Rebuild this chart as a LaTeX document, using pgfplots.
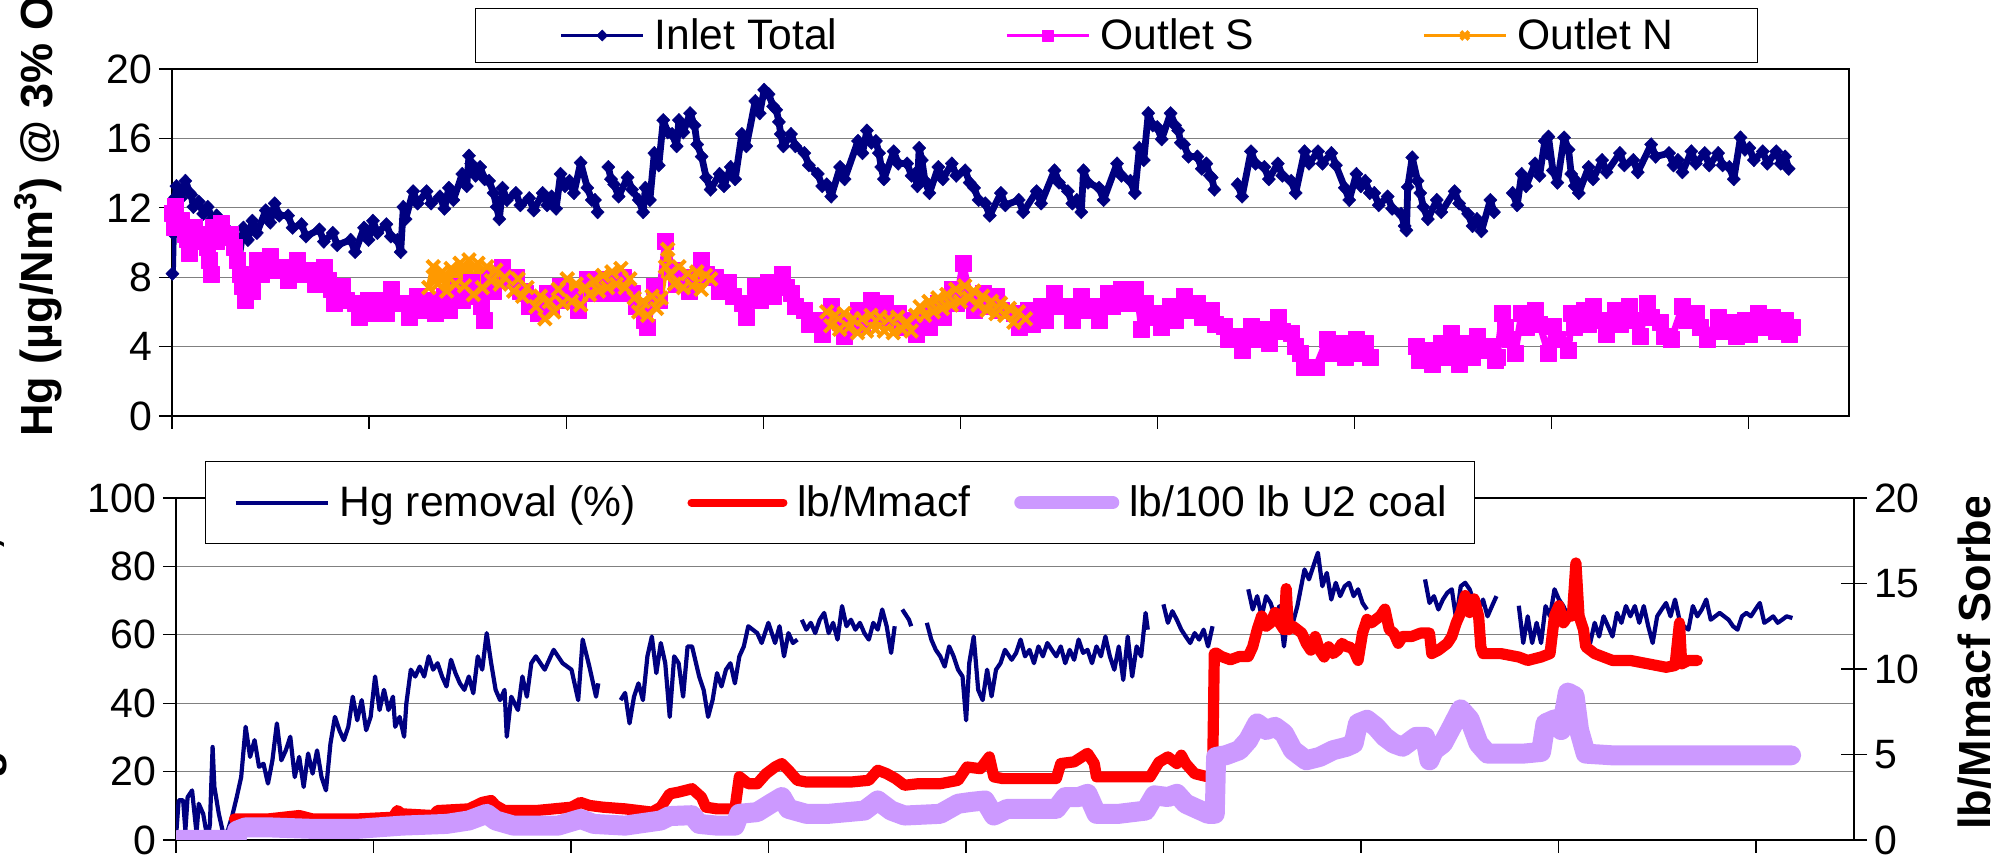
\documentclass[border=0pt]{standalone}
\usepackage{pgfplots}
\pgfplotsset{compat=1.18}
\usepackage{fontspec}
\setmainfont{Liberation Sans}
\definecolor{navyc}{HTML}{000080}
\definecolor{magc}{HTML}{FF00FF}
\definecolor{orc}{HTML}{FF9900}
\definecolor{redc}{HTML}{FF0000}
\definecolor{lavc}{HTML}{CC99FF}
\definecolor{gridc}{HTML}{808080}
\begin{document}
\begin{tikzpicture}
\useasboundingbox (0pt,0pt) rectangle (1001pt,427.5pt);
\pgfplotsset{
  every axis/.append style={
    scale only axis,
    /pgf/number format/assume math mode=true,
    ticklabel style={font=\fontsize{20.5}{24}\selectfont},
    axis line style={line width=0.6pt, black},
    tick style={line width=0.6pt, black},
    major grid style={line width=0.6pt, gridc},
    unbounded coords=jump,
  },
}
% ---------------- TOP PANEL ----------------
\begin{axis}[
  at={(86pt,219.5pt)}, anchor=south west,
  width=838.5pt, height=173.5pt,
  xmin=385, xmax=4140, ymin=0, ymax=20,
  xtick={385,826.3,1267.6,1708.9,2150.2,2591.5,3032.8,3474.1,3915.4},
  xticklabels={},
  ytick={0,4,8,12,16,20},
  ymajorgrids,
  tick align=outside, tick pos=left,
  major tick length=6.5pt,
  legend columns=3,
  legend style={at={(0.1807,1.1758)}, anchor=north west,
    draw=black, line width=0.6pt, fill=white,
    font=\fontsize{21.3}{25}\selectfont,
    inner xsep=42pt, inner ysep=5pt,
    nodes={inner sep=0pt},
    /tikz/every odd column/.append style={column sep=5pt},
    /tikz/every even column/.append style={column sep=84pt},
  },
  legend image code/.code={\draw[mark repeat=2,mark phase=2,#1,line width=1.6pt,mark size=2.8pt] plot coordinates {(0pt,0pt) (20.5pt,0pt) (41pt,0pt)};},
]
\addplot[navyc, line width=3.4pt, line join=round, mark=diamond*, mark size=3.4pt, mark options={solid, xscale=1.3, fill=navyc, line width=0.2pt}] coordinates {
(386,8.2)(388,10.5)(392,12.6)(395,13.25)(405,12.55)(415,13.55)(425,12.85)(428,12.75)(433,12.05)(445,12.35)(455,11.65)(465,12.05)(475,11.35)(485,11.55)(495,10.85)(505,10.85)(515,10.15)(525,9.75)(535,9.05)(545,10.85)(555,10.15)(565,11.25)(575,10.55)(595,11.85)(605,11.15)(615,12.25)(625,11.55)(645,11.55)(655,10.85)(675,11.05)(685,10.35)(715,10.75)(725,10.05)(745,10.55)(755,9.85)(785,10.15)(795,9.45)(815,10.85)(825,10.15)(835,11.25)(845,10.55)(865,11.05)(875,10.35)(890,10.15)(897,9.45)(903,12.05)(908,11.35)(925,12.95)(935,12.25)(955,12.95)(965,12.25)(985,12.65)(995,11.95)(1005,13.15)(1015,12.45)(1035,13.95)(1045,13.25)(1050,15.0)(1055,14.55)(1065,13.85)(1075,14.35)(1085,13.65)(1095,13.55)(1105,12.85)(1112,12.05)(1118,11.35)(1125,13.15)(1135,12.45)(1155,12.85)(1165,12.15)(1185,12.55)(1195,11.85)(1215,12.85)(1225,12.15)(1235,12.65)(1245,11.95)(1255,13.95)(1265,13.25)(1275,13.55)(1285,12.85)(1300,14.6)(1315,13.15)(1325,12.45)(1332,12.45)(1338,11.75)
(1350,nan)
(1362,14.35)(1368,13.65)(1375,13.35)(1385,12.65)(1405,13.75)(1415,13.05)(1430,12.45)(1440,11.75)(1445,13.15)(1455,12.45)(1465,15.15)(1475,14.45)(1485,17.05)(1495,16.35)(1505,16.25)(1515,15.55)(1520,17.05)(1530,16.35)(1545,17.45)(1555,16.75)(1561,15.65)(1571,14.95)(1581,13.75)(1591,13.05)(1611,13.95)(1621,13.25)(1636,14.35)(1646,13.65)(1661,16.25)(1671,15.55)(1691,18.15)(1701,17.45)(1711,18.8)(1721,18.55)(1731,17.85)(1738,17.65)(1744,16.95)(1748,16.25)(1754,15.55)(1771,16.25)(1781,15.55)(1801,15.15)(1811,14.45)(1831,13.95)(1841,13.25)(1851,13.35)(1861,12.65)(1881,14.35)(1891,13.65)(1921,15.85)(1931,15.15)(1941,16.45)(1951,15.75)(1961,15.85)(1968,15.15)(1973,14.35)(1979,13.65)(2001,15.25)(2011,14.55)(2031,14.55)(2041,13.85)(2048,13.95)(2054,13.25)(2058,15.45)(2064,14.75)(2071,13.55)(2081,12.85)(2101,14.35)(2111,13.65)(2131,14.55)(2141,13.85)(2161,14.15)(2171,13.45)(2181,13.15)(2191,12.45)(2206,12.25)(2216,11.55)(2241,12.85)(2251,12.15)(2281,12.45)(2291,11.75)(2321,12.95)(2331,12.25)(2361,14.15)(2371,13.45)(2391,12.95)(2401,12.25)(2411,12.45)(2421,11.75)(2426,14.15)(2436,13.45)(2461,13.15)(2471,12.45)(2501,14.55)(2511,13.85)(2531,13.55)(2541,12.85)(2551,15.45)(2561,14.75)(2571,17.45)(2581,16.75)(2591,16.65)(2601,15.95)(2621,17.45)(2631,16.75)(2638,16.45)(2644,15.75)(2651,15.65)(2661,14.95)(2681,14.95)(2691,14.25)(2701,14.55)(2709,13.85)(2713,13.75)(2719,13.05)
(2740,nan)
(2771,13.35)(2781,12.65)(2801,15.25)(2811,14.55)(2831,14.35)(2841,13.65)(2861,14.55)(2871,13.85)(2891,13.55)(2901,12.85)(2921,15.25)(2931,14.55)(2951,15.25)(2961,14.55)(2981,15.15)(2991,14.45)(3011,13.15)(3021,12.45)(3037,13.95)(3047,13.25)(3057,13.55)(3067,12.85)(3077,12.85)(3087,12.15)(3107,12.65)(3117,11.95)(3137,11.65)(3145,10.95)(3149,10.7)(3152,13.2)(3162,14.9)(3174,13.55)(3180,12.85)(3187,12.05)(3197,11.35)(3217,12.45)(3227,11.75)(3257,12.95)(3267,12.25)(3287,11.65)(3297,10.95)(3307,11.35)(3317,10.65)(3337,12.45)(3345,11.75)
(3367,nan)
(3387,12.85)(3397,12.15)(3407,13.95)(3417,13.25)(3437,14.55)(3447,13.85)(3459,15.85)(3464,15.15)(3467,16.1)(3477,14.15)(3487,13.45)(3502,16.05)(3512,15.35)(3518,13.95)(3526,13.25)(3529,13.55)(3535,12.85)(3557,14.35)(3567,13.65)(3587,14.75)(3597,14.05)(3627,15.15)(3637,14.45)(3657,14.75)(3667,14.05)(3697,15.65)(3707,14.95)(3737,15.15)(3747,14.45)(3757,14.75)(3767,14.05)(3787,15.25)(3797,14.55)(3817,15.15)(3827,14.45)(3847,15.15)(3857,14.45)(3872,14.35)(3882,13.65)(3897,16.05)(3907,15.35)(3917,15.45)(3927,14.75)(3947,15.25)(3957,14.55)(3977,15.25)(3987,14.55)(3997,14.95)(4005,14.25)
};
\addlegendentry{Inlet Total}
\addplot[magc, line width=3.4pt, line join=round, mark=square*, mark size=4pt, mark options={solid, fill=magc, line width=0.2pt}] coordinates {
(386,11.7)(391,10.9)(393,12.1)(398,11.3)(405,11.3)(415,10.5)(418,10.2)(423,9.4)(435,10.9)(445,10.1)(455,10.5)(463,9.7)(468,9.0)(473,8.2)(477,10.9)(485,10.1)(495,11.1)(505,10.3)(515,10.5)(525,9.7)(532,9.0)(538,8.2)(542,7.5)(548,6.7)(555,8.0)(565,7.2)(575,9.0)(585,8.2)(605,9.2)(615,8.4)(635,8.6)(645,7.8)(665,9.0)(675,8.2)(695,8.4)(705,7.6)(725,8.6)(735,7.8)(742,7.3)(748,6.5)(765,7.5)(775,6.7)(795,6.5)(805,5.7)(825,6.7)(835,5.9)(855,6.7)(865,5.9)(875,7.3)(885,6.5)(905,6.5)(915,5.7)(935,6.9)(945,6.1)(965,6.7)(975,5.9)(995,6.9)(1005,6.1)(1025,7.5)(1035,6.7)(1055,7.7)(1065,6.9)(1077,6.3)(1083,5.5)(1095,8.0)(1105,7.2)(1125,8.6)(1135,7.8)(1155,8.0)(1165,7.2)(1175,7.1)(1185,6.3)(1195,6.7)(1205,5.9)(1225,7.1)(1235,6.3)(1255,7.5)(1265,6.7)(1285,6.9)(1295,6.1)(1315,7.9)(1325,7.1)(1345,7.9)(1355,7.1)(1375,7.9)(1385,7.1)(1395,8.0)(1405,7.2)(1415,7.1)(1425,6.3)(1437,6.3)(1443,5.5)(1450,5.1)(1465,7.5)(1475,6.7)(1490,10.1)(1505,8.4)(1515,7.6)(1535,8.0)(1543,7.2)(1571,9.0)(1581,8.2)(1601,8.0)(1611,7.2)(1631,7.7)(1641,6.9)(1661,6.5)(1671,5.7)(1691,7.5)(1701,6.7)(1721,7.7)(1731,6.9)(1751,8.2)(1761,7.4)(1771,7.1)(1781,6.3)(1801,6.1)(1811,5.3)(1831,5.5)(1841,4.7)(1861,6.3)(1871,5.5)(1881,5.4)(1891,4.6)(1921,6.1)(1931,5.3)(1951,6.7)(1961,5.9)(1981,6.5)(1991,5.7)(2011,5.9)(2021,5.1)(2041,5.5)(2051,4.7)(2071,5.9)(2081,5.1)(2101,6.5)(2111,5.7)(2131,7.3)(2141,6.5)(2156,8.8)(2171,6.9)(2181,6.1)(2201,7.1)(2211,6.3)(2231,6.9)(2241,6.1)(2271,5.9)(2281,5.1)(2301,6.1)(2311,5.3)(2331,6.3)(2341,5.5)(2361,7.1)(2371,6.3)(2391,6.3)(2401,5.5)(2421,6.9)(2431,6.1)(2451,6.3)(2461,5.5)(2481,7.1)(2491,6.3)(2511,7.3)(2521,6.5)(2541,7.3)(2549,6.5)(2556,5.0)(2563,6.5)(2571,5.7)(2591,5.9)(2601,5.1)(2621,6.3)(2631,5.5)(2651,6.9)(2661,6.1)(2681,6.5)(2691,5.7)(2711,6.1)(2721,5.3)(2741,5.2)(2751,4.4)(2771,4.6)(2781,3.8)(2801,5.2)(2811,4.4)(2831,5.0)(2841,4.2)(2861,5.7)(2871,4.9)(2891,4.8)(2901,4.0)(2911,3.6)(2921,2.8)(2946,2.8)(2971,4.4)(2981,3.6)(3001,4.2)(3011,3.4)(3037,4.4)(3047,3.6)(3057,4.2)(3067,3.4)
(3100,nan)
(3170,4.0)(3177,3.2)(3197,3.8)(3207,3.0)(3227,4.2)(3237,3.4)(3249,4.8)(3255,4.0)(3267,3.0)(3287,4.2)(3297,3.4)(3307,4.6)(3317,3.8)(3337,4.0)(3347,3.2)(3352,3.4)(3364,5.9)(3370,5.1)(3382,4.4)(3392,3.6)(3407,5.9)(3417,5.1)(3437,6.1)(3447,5.3)(3467,3.6)(3477,5.2)(3487,4.4)(3512,3.8)(3519,5.9)(3525,5.1)(3547,6.1)(3557,5.3)(3567,6.3)(3577,5.5)(3587,5.5)(3597,4.7)(3617,6.1)(3627,5.3)(3647,6.3)(3657,5.5)(3672,4.6)(3687,6.5)(3697,5.7)(3717,5.4)(3727,4.6)(3742,4.4)(3767,6.3)(3777,5.5)(3797,5.9)(3807,5.1)(3822,4.4)(3847,5.7)(3857,4.9)(3877,5.4)(3887,4.6)(3907,5.5)(3917,4.7)(3937,5.9)(3947,5.1)(3967,5.7)(3977,4.9)(3997,5.5)(4007,4.7)(4012,5.1)
};
\addlegendentry{Outlet S}
\addplot[orc, line width=3pt, line join=round, mark=x, mark size=4.5pt, mark options={solid, line width=2pt}] coordinates {
(960,7.4)(970,8.6)(980,7.6)(990,8.3)(1000,7.2)(1010,8.5)(1020,7.6)(1030,8.8)(1040,7.5)(1050,9.0)(1060,7.0)(1070,8.8)(1080,7.4)(1090,8.6)(1100,7.8)(1110,8.4)(1120,7.6)(1130,8.0)(1150,7.2)(1160,7.9)(1170,6.9)(1180,7.4)(1200,6.3)(1210,6.9)(1220,5.6)(1230,6.6)(1240,6.0)(1250,7.3)(1260,6.5)(1270,7.9)(1280,6.6)(1290,7.6)(1300,6.4)(1310,7.4)(1320,7.0)(1330,7.8)(1340,7.2)(1350,8.1)(1360,7.4)(1370,8.3)(1380,7.6)(1390,8.5)(1400,7.4)(1410,7.9)(1420,6.8)(1430,6.0)(1440,6.6)(1450,5.8)(1460,6.9)(1470,6.2)(1480,6.8)(1490,8.6)(1495,9.6)(1500,8.2)(1510,7.6)(1520,8.6)(1530,7.4)(1540,8.2)(1550,7.5)(1560,8.3)(1570,7.3)(1580,8.1)(1591,7.9)
(1700,nan)
(1851,6.0)(1860,5.2)(1870,5.8)(1880,5.0)(1890,5.9)(1900,5.1)(1910,5.6)(1920,4.8)(1930,5.6)(1940,4.9)(1950,5.8)(1960,5.0)(1970,5.7)(1980,4.9)(1990,5.6)(2000,4.8)(2010,5.7)(2020,5.0)(2030,5.4)(2040,4.9)(2050,5.8)(2060,6.3)(2070,5.8)(2080,6.6)(2090,6.0)(2100,6.8)(2110,6.2)(2120,7.0)(2130,6.4)(2140,7.3)(2150,6.6)(2160,7.5)(2170,6.8)(2180,7.2)(2190,6.4)(2200,6.9)(2210,6.1)(2220,6.6)(2230,5.9)(2240,6.5)(2250,5.8)(2260,6.2)(2270,5.4)(2280,6.0)(2296,5.6)
};
\addlegendentry{Outlet N}
\end{axis}
% ---------------- BOTTOM PANEL (left axis) ----------------
\begin{axis}[
  at={(88pt,7.5pt)}, anchor=south west,
  width=839pt, height=171pt,
  xmin=394, xmax=4153, ymin=0, ymax=100,
  xtick={394,836.4,1278.8,1721.2,2163.6,2606,3048.4,3490.8,3933.2},
  xticklabels={},
  ytick={0,20,40,60,80,100},
  ymajorgrids,
  tick align=outside, tick pos=left,
  major tick length=6.5pt,
]
\addplot[navyc, line width=2.1pt, line join=round] coordinates {
(395,2.7)(400,11.6)(410,11.6)(415,2.7)(420,12.5)(430,14.5)(440,2.0)(445,10.6)(455,7.6)(465,0)(470,4.7)(476,27.2)(480,15.5)(490,7.6)(500,1.8)(510,2.7)(520,7.1)(530,12.5)(540,18.4)(550,33.1)(560,24.3)(570,29.2)(580,21.4)(590,22.3)(600,16.5)(610,23.3)(620,34.1)(630,23.3)(640,26.2)(650,30.2)(660,18.4)(670,24.3)(680,15.5)(690,25.3)(700,19.4)(710,26.2)(720,18.4)(730,14.5)(740,28.2)(750,36.0)(760,32.1)(770,29.2)(780,33.1)(790,41.9)(800,35.0)(810,40.9)(820,32.1)(830,36.0)(840,47.8)(850,38.0)(860,43.9)(870,38.0)(880,41.9)(885,33.1)(895,36.0)(905,30.2)(910,39.9)(920,49.8)(930,47.8)(940,50.7)(950,47.8)(960,53.7)(970,49.8)(980,51.7)(990,47.8)(1000,44.9)(1010,52.7)(1020,48.8)(1030,45.8)(1040,43.9)(1050,47.8)(1060,42.9)(1070,53.7)(1080,49.8)(1090,60.5)(1100,51.7)(1110,43.9)(1120,40.9)(1130,43.9)(1135,30.2)(1145,41.9)(1160,38.0)(1170,47.8)(1180,41.9)(1190,51.7)(1200,53.7)(1220,49.8)(1240,55.6)(1260,51.7)(1280,49.8)(1295,40.9)(1305,58.6)(1320,50.7)(1335,41.9)(1340,45.8)
(1365,nan)
(1390,40.9)(1400,43.0)(1410,34.1)(1420,41.9)(1430,45.8)(1440,40.9)(1450,53.7)(1460,59.5)(1470,48.8)(1480,57.6)(1490,51.7)(1500,36.0)(1510,53.7)(1520,51.7)(1530,41.9)(1540,56.6)(1550,56.6)(1566,47.8)(1576,43.9)(1586,36.0)(1596,40.9)(1606,48.8)(1616,44.9)(1626,49.8)(1636,51.7)(1646,45.8)(1656,53.7)(1666,56.6)(1676,62.5)(1686,61.5)(1696,60.5)(1706,57.6)(1721,63.5)(1736,57.6)(1746,62.5)(1756,53.7)(1766,60.5)(1776,57.6)(1786,58.6)
(1791,nan)
(1796,64.4)(1806,61.5)(1816,63.5)(1826,60.5)(1836,64.4)(1846,66.4)(1856,60.5)(1866,63.5)(1876,58.6)(1886,68.4)(1896,62.5)(1906,64.4)(1916,61.5)(1926,63.5)(1936,60.5)(1946,58.6)(1956,63.5)(1966,61.5)(1976,67.4)(1986,62.5)(1996,54.7)(2004,62.5)
(2012,nan)
(2021,67.4)(2036,64.4)(2041,62.5)
(2060,nan)
(2076,63.5)(2086,58.6)(2096,55.6)(2106,53.7)(2116,50.7)(2126,56.6)(2136,53.7)(2146,49.8)(2156,47.8)(2164,35.0)(2171,51.7)(2181,59.5)(2191,43.9)(2201,40.9)(2211,49.8)(2221,42.0)(2231,49.8)(2241,51.7)(2251,55.6)(2266,52.7)(2276,54.7)(2286,58.6)(2296,53.7)(2306,55.6)(2316,51.7)(2326,56.6)(2336,53.7)(2346,57.6)(2356,55.6)(2366,53.7)(2376,56.6)(2386,51.7)(2396,55.6)(2406,52.7)(2416,58.6)(2426,54.7)(2436,55.6)(2446,51.7)(2456,56.6)(2466,53.7)(2476,59.5)(2486,53.7)(2496,49.8)(2506,56.6)(2516,46.8)(2526,59.5)(2536,47.8)(2546,56.6)(2556,53.7)(2566,66.4)(2571,61.5)
(2590,nan)
(2606,68.9)(2616,63.5)(2626,66.9)(2636,64.4)(2646,61.5)(2656,59.5)(2666,57.6)(2676,60.5)(2686,58.6)(2696,61.5)(2706,56.6)(2716,62.5)
(2760,nan)
(2796,73.3)(2806,67.4)(2816,71.3)(2826,65.4)(2836,71.3)(2846,69.3)(2856,65.4)(2866,68.4)(2876,56.6)(2886,67.4)(2896,63.5)(2906,68.4)(2922,79.1)(2932,76.2)(2942,80.1)(2952,84.0)(2962,74.2)(2972,78.1)(2982,70.3)(2992,75.2)(3002,71.3)(3012,74.2)(3022,75.2)(3032,71.3)(3042,73.3)(3052,69.3)(3062,67.4)
(3100,nan)
(3192,76.2)(3202,69.3)(3212,71.3)(3222,67.4)(3232,70.3)(3242,72.3)(3252,73.3)(3262,64.4)(3272,74.2)(3282,75.2)(3292,73.3)(3302,69.3)(3312,67.4)(3322,70.3)(3332,65.4)(3342,68.4)(3352,71.3)
(3377,nan)
(3402,68.5)(3412,57.6)(3422,65.4)(3432,57.6)(3442,63.5)(3452,57.6)(3462,68.4)(3472,65.4)(3482,73.3)(3492,70.3)(3502,68.4)(3512,65.4)(3522,67.4)(3532,71.3)(3542,59.5)(3552,61.5)(3562,57.6)(3572,63.5)(3582,59.5)(3592,65.4)(3602,62.5)(3612,59.5)(3622,66.4)(3632,63.5)(3642,68.4)(3652,65.4)(3662,68.4)(3672,63.5)(3682,68.4)(3692,62.5)(3702,57.6)(3712,65.4)(3722,67.4)(3732,69.3)(3742,65.4)(3752,70.3)(3762,64.4)(3772,62.5)(3782,61.5)(3792,68.4)(3802,65.4)(3812,67.4)(3822,70.3)(3832,64.4)(3842,65.4)(3852,66.4)(3862,65.4)(3872,64.4)(3882,62.5)(3892,61.5)(3902,65.4)(3912,66.4)(3922,65.4)(3932,67.4)(3942,69.3)(3952,63.5)(3962,64.4)(3972,65.4)(3982,63.5)(3992,64.4)(4002,65.4)(4015,64.9)
};
\end{axis}
% ---------------- BOTTOM PANEL (right axis) ----------------
\begin{axis}[
  at={(88pt,7.5pt)}, anchor=south west,
  width=839pt, height=171pt,
  xmin=394, xmax=4153, ymin=0, ymax=20,
  axis x line=none, axis y line*=right,
  ytick={0,5,10,15,20},
  tick align=center, major tick length=13pt,
  legend columns=3,
  legend style={at={(0.01728,1.1082)}, anchor=north west,
    draw=black, line width=0.6pt, fill=white,
    font=\fontsize{21.3}{25}\selectfont,
    inner xsep=14pt, inner ysep=12pt,
    nodes={inner sep=0pt},
    /tikz/every odd column/.append style={column sep=5pt},
    /tikz/column 2/.append style={column sep=26pt},
    /tikz/column 4/.append style={column sep=22pt},
  },
  legend image code/.code={\draw[#1] (0pt,0pt) -- (46pt,0pt);},
]
\addlegendimage{navyc, line width=2pt}
\addlegendentry{Hg removal (\%)}
\addplot[redc, line width=5.6pt, line cap=round, line join=round, legend image post style={line width=4pt}] coordinates {
(525,1.23)(600,1.23)(670,1.43)(700,1.23)(800,1.23)(880,1.33)(890,1.72)(900,1.53)(970,1.43)(980,1.72)(1050,1.82)(1080,2.20)(1100,2.31)(1110,2.02)(1130,1.72)(1200,1.72)(1280,1.92)(1300,2.20)(1320,2.02)(1350,1.92)(1400,1.82)(1460,1.63)(1480,1.92)(1500,2.70)(1520,2.80)(1550,3.00)(1571,2.51)(1581,1.92)(1606,1.82)(1646,1.82)(1656,3.70)(1676,3.29)(1696,3.29)(1716,3.88)(1736,4.27)(1751,4.47)(1766,4.08)(1786,3.49)(1806,3.39)(1856,3.39)(1906,3.39)(1946,3.49)(1966,4.08)(1986,3.88)(2006,3.59)(2026,3.20)(2056,3.29)(2106,3.29)(2146,3.49)(2166,4.27)(2196,4.17)(2216,4.86)(2226,3.69)(2246,3.59)(2306,3.59)(2366,3.59)(2376,4.47)(2406,4.57)(2436,5.07)(2451,4.47)(2456,3.69)(2506,3.69)(2576,3.69)(2596,4.55)(2616,4.86)(2636,4.47)(2646,4.96)(2656,4.47)(2676,3.88)(2706,3.69)(2716,3.69)(2720,10.9)(2724,10.93)(2736,10.73)(2756,10.54)(2776,10.73)(2796,10.73)(2806,11.3)(2816,12.3)(2826,13.1)(2836,12.5)(2846,12.7)(2856,13.3)(2866,12.7)(2876,12.3)(2881,14.7)(2886,12.3)(2896,12.5)(2906,12.3)(2916,12.1)(2926,11.5)(2936,11.1)(2946,11.9)(2956,11.1)(2966,10.7)(2976,11.3)(2986,10.9)(2996,11.1)(3006,11.5)(3016,11.3)(3022,11.3)(3032,11.1)(3042,10.5)(3052,12.1)(3062,12.9)(3072,12.7)(3082,12.9)(3092,13.1)(3102,13.5)(3112,12.3)(3122,12.1)(3132,11.5)(3142,11.9)(3162,11.9)(3182,12.1)(3202,12.1)(3207,10.9)(3222,11.1)(3242,11.5)(3252,11.9)(3262,12.7)(3272,13.3)(3282,14.3)(3292,13.3)(3302,14.1)(3312,13.1)(3317,11.3)(3322,10.9)(3362,10.9)(3402,10.7)(3422,10.5)(3452,10.7)(3472,10.9)(3482,13.1)(3492,13.7)(3502,12.7)(3512,13.1)(3522,13.1)(3530,16.2)(3537,13.1)(3547,12.3)(3552,11.3)(3572,10.9)(3592,10.7)(3612,10.5)(3652,10.5)(3692,10.3)(3732,10.1)(3752,10.2)(3762,12.7)(3767,10.3)(3782,10.5)(3802,10.5)
};
\addlegendentry{lb/Mmacf}
\addplot[lavc, line width=10pt, line cap=round, line join=round, legend image post style={line width=6.5pt}] coordinates {
(398,0)(530,0)(531,0.55)(550,0.74)(600,0.74)(700,0.65)(800,0.65)(900,0.84)(1000,0.94)(1050,1.14)(1090,1.53)(1110,1.14)(1150,0.84)(1250,0.84)(1300,1.23)(1330,0.94)(1400,0.84)(1480,1.14)(1500,1.40)(1550,1.45)(1566,0.94)(1606,0.84)(1646,0.84)(1656,1.53)(1696,1.63)(1726,2.12)(1751,2.51)(1766,1.82)(1806,1.53)(1856,1.53)(1936,1.72)(1966,2.31)(1996,1.72)(2026,1.43)(2106,1.53)(2146,2.12)(2176,2.23)(2206,2.31)(2226,1.43)(2256,1.82)(2306,1.82)(2366,1.82)(2386,2.51)(2416,2.51)(2436,2.70)(2456,1.53)(2506,1.53)(2566,1.72)(2586,2.61)(2616,2.51)(2636,2.70)(2656,2.12)(2706,1.53)(2721,1.53)(2724,4.86)(2746,4.96)(2776,5.25)(2796,5.84)(2816,6.82)(2836,6.43)(2856,6.62)(2876,6.23)(2896,5.25)(2926,4.66)(2956,4.86)(2986,5.25)(3016,5.45)(3032,5.64)(3042,6.82)(3062,7.03)(3082,6.62)(3102,6.03)(3122,5.64)(3142,5.45)(3172,6.03)(3192,6.03)(3202,4.66)(3212,5.25)(3232,5.64)(3252,6.62)(3272,7.64)(3292,7.05)(3312,5.64)(3332,5.05)(3362,5.05)(3412,5.05)(3452,5.15)(3462,6.82)(3482,7.05)(3497,6.43)(3512,8.62)(3527,8.42)(3537,6.43)(3552,5.05)(3612,4.95)(3712,4.95)(3812,4.95)(3912,4.95)(4012,4.95)
};
\addlegendentry{lb/100 lb U2 coal}
\end{axis}
% ---------------- axis titles ----------------
\node[rotate=90, anchor=base west, inner sep=0pt, font=\bfseries\fontsize{22.5}{27}\selectfont] at (26pt,209pt) {Hg (µg/Nm\textsuperscript{3}) @ 3\% O\textsubscript{2}};
\node[rotate=90, anchor=base west, inner sep=0pt, font=\bfseries\fontsize{22.5}{27}\selectfont] at (-1.5pt,22pt) {Hg Removal, \%};
\begin{scope}
\clip (940pt,0pt) rectangle (1001pt,178.5pt);
\node[rotate=90, anchor=base west, inner sep=0pt, font=\bfseries\fontsize{22.5}{27}\selectfont] at (995pt,12.5pt) {lb/Mmacf Sorbent};
\end{scope}
\end{tikzpicture}
\end{document}
